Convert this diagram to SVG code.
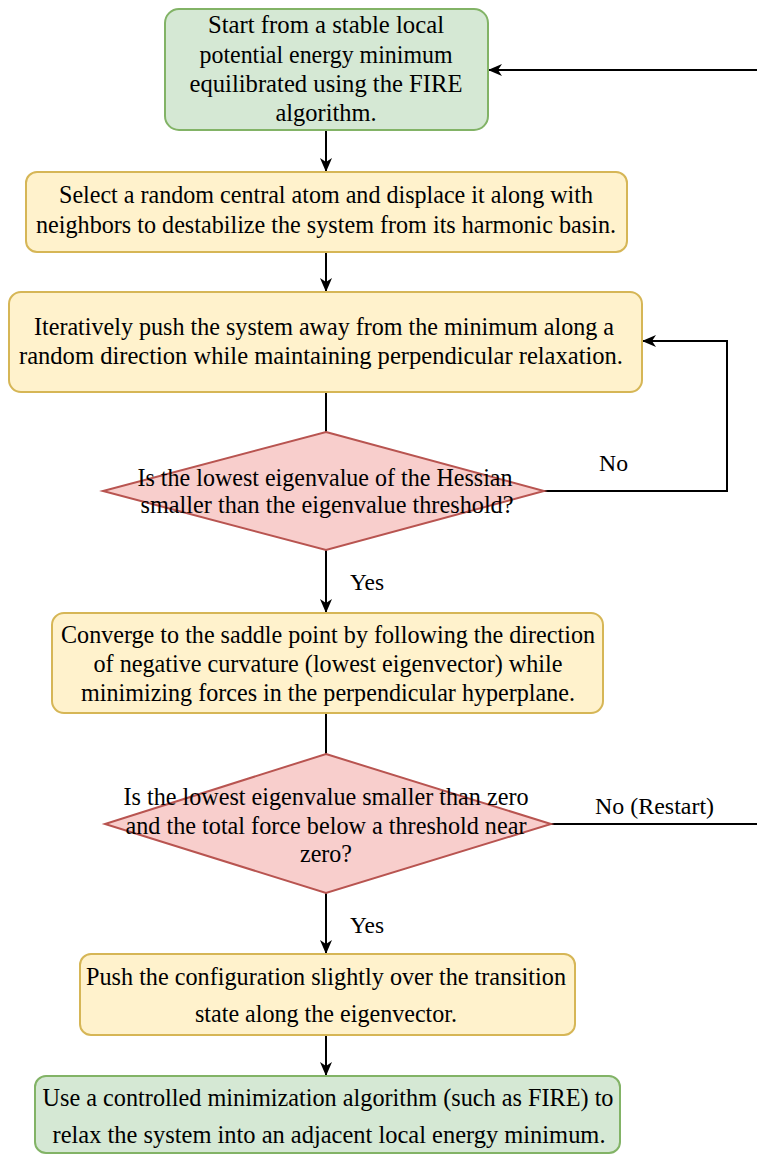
<svg xmlns="http://www.w3.org/2000/svg" width="757" height="1154" viewBox="0 0 757 1154">
<style>
.g{fill:#d5e8d4;stroke:#82b366;stroke-width:2}
.y{fill:#fff2cc;stroke:#d6b656;stroke-width:2}
.r{fill:#f8cecc;stroke:#b85450;stroke-width:2}
.t{font-family:"Liberation Serif","Times New Roman",serif;font-size:26px;fill:#000;text-anchor:middle}
.l{font-family:"Liberation Serif","Times New Roman",serif;font-size:24px;fill:#000}
.c{fill:none;stroke:#000;stroke-width:2}
</style>
<defs>
<marker id="ah" viewBox="0 0 14 12" refX="13" refY="6" markerWidth="14" markerHeight="12" markerUnits="userSpaceOnUse" orient="auto">
<path d="M0,0 L14,6 L0,12 L4,6 Z" fill="#000"/>
</marker>
</defs>
<rect width="757" height="1154" fill="#fff"/>
<g id="connectors">
<path class="c" d="M326,130 V171" marker-end="url(#ah)"/>
<path class="c" d="M326,252 V291" marker-end="url(#ah)"/>
<path class="c" d="M326,392 V432"/>
<path class="c" d="M544,491 H727 V341 H643" marker-end="url(#ah)"/>
<path class="c" d="M326,550 V612" marker-end="url(#ah)"/>
<path class="c" d="M326,713 V754"/>
<path class="c" d="M551,824 H775 V70 H489" marker-end="url(#ah)"/>
<path class="c" d="M326,893 V953" marker-end="url(#ah)"/>
<path class="c" d="M326,1035 V1075" marker-end="url(#ah)"/>
<text class="l" x="599" y="471" textLength="29" lengthAdjust="spacingAndGlyphs">No</text>
<text class="l" x="350" y="590" textLength="34" lengthAdjust="spacingAndGlyphs">Yes</text>
<text class="l" x="595" y="814" textLength="119" lengthAdjust="spacingAndGlyphs">No (Restart)</text>
<text class="l" x="350" y="933" textLength="34" lengthAdjust="spacingAndGlyphs">Yes</text>
</g>
<g id="start">
<rect class="g" x="165" y="9" width="323" height="121" rx="14"/>
<text class="t" x="326" y="33" textLength="236" lengthAdjust="spacingAndGlyphs">Start from a stable local</text>
<text class="t" x="326" y="63" textLength="253" lengthAdjust="spacingAndGlyphs">potential energy minimum</text>
<text class="t" x="326" y="92" textLength="273" lengthAdjust="spacingAndGlyphs">equilibrated using the FIRE</text>
<text class="t" x="326" y="121" textLength="101" lengthAdjust="spacingAndGlyphs">algorithm.</text>
</g>
<g id="select">
<rect class="y" x="26" y="172" width="601" height="80" rx="11"/>
<text class="t" x="326" y="203" textLength="534" lengthAdjust="spacingAndGlyphs">Select a random central atom and displace it along with</text>
<text class="t" x="326" y="233" textLength="580" lengthAdjust="spacingAndGlyphs">neighbors to destabilize the system from its harmonic basin.</text>
</g>
<g id="push-away">
<rect class="y" x="9" y="292" width="633" height="100" rx="12"/>
<text class="t" x="324" y="335" textLength="580" lengthAdjust="spacingAndGlyphs">Iteratively push the system away from the minimum along a</text>
<text class="t" x="321" y="364" textLength="604" lengthAdjust="spacingAndGlyphs">random direction while maintaining perpendicular relaxation.</text>
</g>
<g id="decision1">
<polygon class="r" points="326,432 544,491 326,550 103,491"/>
<text class="t" x="325" y="486" textLength="375" lengthAdjust="spacingAndGlyphs">Is the lowest eigenvalue of the Hessian</text>
<text class="t" x="327" y="513" textLength="373" lengthAdjust="spacingAndGlyphs">smaller than the eigenvalue threshold?</text>
</g>
<g id="converge">
<rect class="y" x="52" y="613" width="551" height="100" rx="12"/>
<text class="t" x="328" y="643" textLength="534" lengthAdjust="spacingAndGlyphs">Converge to the saddle point by following the direction</text>
<text class="t" x="328" y="672" textLength="469" lengthAdjust="spacingAndGlyphs">of negative curvature (lowest eigenvector) while</text>
<text class="t" x="328" y="701" textLength="494" lengthAdjust="spacingAndGlyphs">minimizing forces in the perpendicular hyperplane.</text>
</g>
<g id="decision2">
<polygon class="r" points="326,754 551,824 326,893 105,824"/>
<text class="t" x="326" y="805" textLength="405" lengthAdjust="spacingAndGlyphs">Is the lowest eigenvalue smaller than zero</text>
<text class="t" x="326" y="834" textLength="401" lengthAdjust="spacingAndGlyphs">and the total force below a threshold near</text>
<text class="t" x="326" y="862" textLength="52" lengthAdjust="spacingAndGlyphs">zero?</text>
</g>
<g id="push-over">
<rect class="y" x="80" y="954" width="495" height="81" rx="11"/>
<text class="t" x="326" y="985" textLength="480" lengthAdjust="spacingAndGlyphs">Push the configuration slightly over the transition</text>
<text class="t" x="326" y="1022" textLength="262" lengthAdjust="spacingAndGlyphs">state along the eigenvector.</text>
</g>
<g id="relax">
<rect class="g" x="35" y="1076" width="585" height="77" rx="11"/>
<text class="t" x="328" y="1106" textLength="571" lengthAdjust="spacingAndGlyphs">Use a controlled minimization algorithm (such as FIRE) to</text>
<text class="t" x="329" y="1143" textLength="553" lengthAdjust="spacingAndGlyphs">relax the system into an adjacent local energy minimum.</text>
</g>
</svg>
